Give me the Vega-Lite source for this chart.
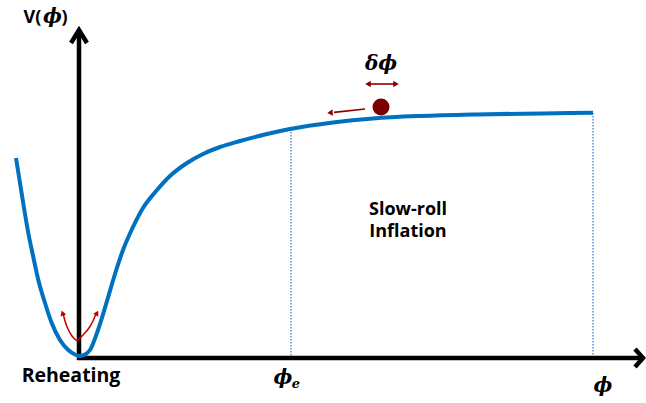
{
  "$schema": "https://vega.github.io/schema/vega-lite/v6.json",
  "width": 646,
  "height": 403,
  "padding": 0,
  "autosize": {"type": "none"},
  "background": "white",
  "config": {"view": {"stroke": null}},
  "datasets": {
    "curve": [
      {"phi": 16, "V": 245}, {"phi": 20, "V": 220}, {"phi": 24, "V": 195}, {"phi": 28.3, "V": 170},
      {"phi": 33.3, "V": 146}, {"phi": 38.3, "V": 123}, {"phi": 45, "V": 100}, {"phi": 51.7, "V": 80},
      {"phi": 60, "V": 63}, {"phi": 68.3, "V": 53}, {"phi": 75, "V": 48.5}, {"phi": 80, "V": 47},
      {"phi": 85, "V": 48.5}, {"phi": 90, "V": 53}, {"phi": 98, "V": 73}, {"phi": 107, "V": 102},
      {"phi": 115, "V": 129}, {"phi": 123, "V": 153}, {"phi": 133, "V": 176}, {"phi": 143, "V": 195},
      {"phi": 157, "V": 213}, {"phi": 170, "V": 227}, {"phi": 187, "V": 240}, {"phi": 203, "V": 249},
      {"phi": 220, "V": 256}, {"phi": 240, "V": 262}, {"phi": 267, "V": 269}, {"phi": 290, "V": 274},
      {"phi": 333, "V": 280.5}, {"phi": 373, "V": 284.5}, {"phi": 420, "V": 287}, {"phi": 477, "V": 288.6},
      {"phi": 543, "V": 289.6}, {"phi": 593, "V": 290.3}
    ],
    "axes": [
      {"id": "v", "i": 0, "phi": 79, "V": 43}, {"id": "v", "i": 1, "phi": 79, "V": 373},
      {"id": "h", "i": 0, "phi": 77, "V": 45}, {"id": "h", "i": 1, "phi": 643, "V": 45},
      {"id": "va", "i": 0, "phi": 71, "V": 360}, {"id": "va", "i": 1, "phi": 79, "V": 373}, {"id": "va", "i": 2, "phi": 87, "V": 360},
      {"id": "ha", "i": 0, "phi": 635, "V": 54}, {"id": "ha", "i": 1, "phi": 643, "V": 45}, {"id": "ha", "i": 2, "phi": 635, "V": 36}
    ],
    "dotted": [
      {"phi": 291, "V": 274, "V2": 47},
      {"phi": 593, "V": 290, "V2": 47}
    ],
    "ball": [{"phi": 381, "V": 296}],
    "darkArrows": [
      {"id": "roll", "i": 0, "phi": 365, "V": 294}, {"id": "roll", "i": 1, "phi": 334, "V": 290.6},
      {"id": "fluct", "i": 0, "phi": 370, "V": 319}, {"id": "fluct", "i": 1, "phi": 394, "V": 319}
    ],
    "darkHeads": [
      {"phi": 330, "V": 290.3, "dir": 266},
      {"phi": 368, "V": 319, "dir": 270},
      {"phi": 396, "V": 319, "dir": 90}
    ],
    "redArrows": [
      {"id": "l", "i": 0, "phi": 77, "V": 62}, {"id": "l", "i": 1, "phi": 72, "V": 67}, {"id": "l", "i": 2, "phi": 68, "V": 74},
      {"id": "l", "i": 3, "phi": 65, "V": 82}, {"id": "l", "i": 4, "phi": 63.5, "V": 88},
      {"id": "r", "i": 0, "phi": 77, "V": 62}, {"id": "r", "i": 1, "phi": 83, "V": 68}, {"id": "r", "i": 2, "phi": 89, "V": 75},
      {"id": "r", "i": 3, "phi": 93, "V": 82}, {"id": "r", "i": 4, "phi": 95.5, "V": 88}
    ],
    "redHeads": [
      {"phi": 62.5, "V": 90, "dir": -20},
      {"phi": 97, "V": 90, "dir": 30}
    ],
    "bigText": [
      {"label": "Reheating", "phi": 71, "V": 21}
    ],
    "sansText": [
      {"label": "Slow-roll\nInflation", "phi": 408, "V": 188},
      {"label": "V(", "phi": 32.5, "V": 380},
      {"label": ")", "phi": 64.5, "V": 380}
    ],
    "serifText": [
      {"label": "δϕ", "phi": 381, "V": 333},
      {"label": "ϕ", "phi": 52.5, "V": 380},
      {"label": "ϕ", "phi": 283, "V": 19},
      {"label": "ϕ", "phi": 603, "V": 11}
    ],
    "subText": [
      {"label": "e", "phi": 296, "V": 15}
    ]
  },
  "encoding": {
    "x": {"field": "phi", "type": "quantitative", "scale": {"domain": [0, 646], "nice": false, "zero": false}, "axis": null},
    "y": {"field": "V", "type": "quantitative", "scale": {"domain": [0, 403], "nice": false, "zero": false}, "axis": null}
  },
  "layer": [
    {
      "data": {"name": "dotted"},
      "mark": {"type": "rule", "color": "#5B8FD6", "strokeWidth": 1.5, "strokeDash": [1.5, 1.5]},
      "encoding": {"y2": {"field": "V2"}}
    },
    {
      "data": {"name": "axes"},
      "mark": {"type": "line", "color": "black", "strokeWidth": 4.5, "strokeJoin": "miter"},
      "encoding": {"detail": {"field": "id"}, "order": {"field": "i"}}
    },
    {
      "data": {"name": "curve"},
      "mark": {"type": "line", "color": "#0070C0", "strokeWidth": 4, "interpolate": "monotone"},
      "encoding": {}
    },
    {
      "data": {"name": "ball"},
      "mark": {"type": "point", "shape": "circle", "filled": true, "color": "#7B0000", "size": 290, "opacity": 1},
      "encoding": {}
    },
    {
      "data": {"name": "darkArrows"},
      "mark": {"type": "line", "color": "#8B0000", "strokeWidth": 1.6},
      "encoding": {"detail": {"field": "id"}, "order": {"field": "i"}}
    },
    {
      "data": {"name": "darkHeads"},
      "mark": {"type": "point", "shape": "triangle-up", "filled": true, "color": "#8B0000", "size": 40, "opacity": 1},
      "encoding": {"angle": {"field": "dir", "type": "quantitative", "scale": null}}
    },
    {
      "data": {"name": "redArrows"},
      "mark": {"type": "line", "color": "#C00000", "strokeWidth": 1.5, "interpolate": "monotone"},
      "encoding": {"detail": {"field": "id"}, "order": {"field": "i"}}
    },
    {
      "data": {"name": "redHeads"},
      "mark": {"type": "point", "shape": "triangle-up", "filled": true, "color": "#C00000", "size": 35, "opacity": 1},
      "encoding": {"angle": {"field": "dir", "type": "quantitative", "scale": null}}
    },
    {
      "data": {"name": "bigText"},
      "mark": {"type": "text", "font": "Open Sans", "fontWeight": "bold", "fontSize": 19.5, "color": "black", "align": "center", "baseline": "alphabetic"},
      "encoding": {"text": {"field": "label"}}
    },
    {
      "data": {"name": "sansText"},
      "mark": {"type": "text", "font": "Open Sans", "fontWeight": "bold", "fontSize": 18, "color": "black", "align": "center", "baseline": "alphabetic", "lineBreak": "\n", "lineHeight": 22},
      "encoding": {"text": {"field": "label"}}
    },
    {
      "data": {"name": "serifText"},
      "mark": {"type": "text", "font": "DejaVu Serif", "fontWeight": "bold", "fontStyle": "italic", "fontSize": 20, "color": "black", "align": "center", "baseline": "alphabetic"},
      "encoding": {"text": {"field": "label"}}
    },
    {
      "data": {"name": "subText"},
      "mark": {"type": "text", "font": "DejaVu Serif", "fontWeight": "bold", "fontStyle": "italic", "fontSize": 13, "color": "black", "align": "center", "baseline": "alphabetic"},
      "encoding": {"text": {"field": "label"}}
    }
  ]
}
